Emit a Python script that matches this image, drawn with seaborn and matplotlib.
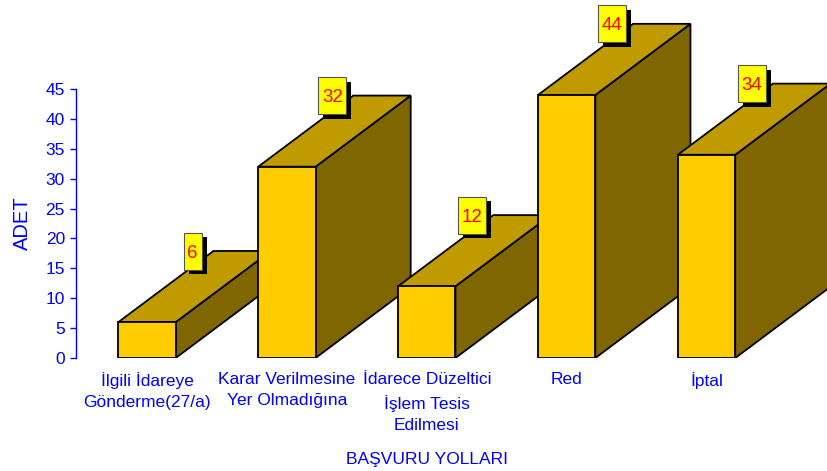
import pandas as pd
import seaborn as sns
import matplotlib.pyplot as plt
from matplotlib import transforms
from matplotlib.patches import Polygon, Rectangle

# -----------------------------
# Data
# -----------------------------
categories = [
    'İlgili İdareye\nGönderme(27/a)',
    'Karar Verilmesine\nYer Olmadığına',
    'İdarece Düzeltici\nİşlem Tesis\nEdilmesi',
    'Red',
    'İptal',
]
counts = [6, 32, 12, 44, 34]
y_ticks = [0, 5, 10, 15, 20, 25, 30, 35, 40, 45]

BLUE = '#0000FF'
FRONT = '#FFCC00'
TOP = '#C09B00'
SIDE = '#806600'

# 3D depth of the bars (in data units: categories, counts)
DX, DY = 0.68, 11.9

sns.set_style('white')
plt.rcParams['font.family'] = ['Liberation Sans', 'DejaVu Sans']

fig = plt.figure(figsize=(8.28, 4.71), dpi=100)
ax = fig.add_axes([76 / 828, 113 / 471, 752 / 828, 358 / 471])

df = pd.DataFrame({'Yol': categories, 'Adet': counts})
sns.barplot(data=df, x='Yol', y='Adet', color=FRONT, saturation=1,
            width=0.41, edgecolor='black', linewidth=1.3, ax=ax)

# -----------------------------
# Fake 3D: top and side faces, value boxes
# -----------------------------
for i, bar in enumerate(ax.patches):
    x0 = bar.get_x()
    x1 = x0 + bar.get_width()
    h = bar.get_height()
    top = Polygon([(x0, h), (x1, h), (x1 + DX, h + DY), (x0 + DX, h + DY)],
                  closed=True, fc=TOP, ec='black', lw=1.3, zorder=2 + 2 * i)
    side = Polygon([(x1, 0), (x1 + DX, DY), (x1 + DX, h + DY), (x1, h)],
                   closed=True, fc=SIDE, ec='black', lw=1.3, zorder=2 + 2 * i)
    ax.add_patch(side)
    ax.add_patch(top)
    bar.set_zorder(3 + 2 * i)

    # value label box sitting above the middle of the top face
    xm = (x0 + x1) / 2 + DX / 2
    ym = h + DY / 2
    txt = str(counts[i])
    w = (10 * len(txt) + 8) / 100
    hb = 0.37
    bx, by = -w / 2 - 0.02, 0.17
    base = fig.dpi_scale_trans + transforms.ScaledTranslation(xm, ym, ax.transData)
    ax.add_patch(Rectangle((bx + 0.05, by - 0.045), w, hb, transform=base,
                           fc='black', ec='none', zorder=30, clip_on=False))
    ax.add_patch(Rectangle((bx, by), w, hb, transform=base,
                           fc='#FFFF00', ec='#555555', lw=0.8, zorder=31, clip_on=False))
    ax.text(bx + w / 2, by + hb / 2, txt, transform=base, ha='center',
            va='center_baseline', color='#FF0000', fontsize=13.5, zorder=32)

# -----------------------------
# Axes styling
# -----------------------------
ax.set_xlim(-0.5075, 4.868)
ax.set_ylim(0, 358 / 5.978)
ax.set_yticks(y_ticks)
ax.set_xticks(range(len(categories)))
ax.set_xticklabels(categories, linespacing=1.55)

for s in ['top', 'right', 'bottom']:
    ax.spines[s].set_visible(False)
ax.spines['left'].set_color(BLUE)
ax.spines['left'].set_linewidth(1)
ax.spines['left'].set_bounds(0, 45)

ax.tick_params(axis='y', left=True, direction='out', length=4, width=1,
               color=BLUE, labelcolor=BLUE, labelsize=12.5, pad=4)
ax.tick_params(axis='x', bottom=False, length=0, labelcolor=BLUE,
               labelsize=12.5, pad=10)

ax.set_xlabel('BAŞVURU YOLLARI', color=BLUE, fontsize=12.5)
ax.xaxis.set_label_coords(0.467, -0.263)
ax.set_ylabel('ADET', color=BLUE, fontsize=14.5)
ax.yaxis.set_label_coords(-0.058, 0.377)

fig.savefig('out.png', dpi=100)
